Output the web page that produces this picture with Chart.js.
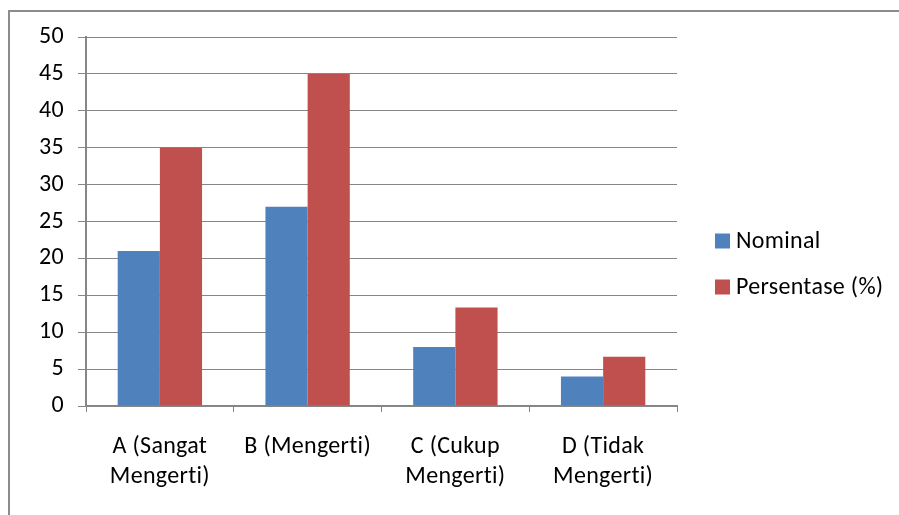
<!DOCTYPE html>
<html>
<head>
<meta charset="utf-8">
<script src="https://cdn.jsdelivr.net/npm/chart.js@4/dist/chart.umd.min.js"></script>
<style>
  html, body { margin: 0; padding: 0; background: #ffffff; }
  #wrap { width: 899px; height: 515px; position: relative; }
</style>
</head>
<body>
<div id="wrap"><canvas id="c" width="899" height="515"></canvas></div>
<script>
// Categories (tick labels, wrapped like the axis shows them)
const categories = [
  ["A (Sangat", "Mengerti)"],
  "B (Mengerti)",
  ["C (Cukup", "Mengerti)"],
  ["D (Tidak", "Mengerti)"]
];
const seriesNames = ["Nominal", "Persentase (%)"];
const nominal = [21, 27, 8, 4];
const persentase = [35, 45, 13.33, 6.67];
const yTicks = [0, 5, 10, 15, 20, 25, 30, 35, 40, 45, 50];

const FONT = "Carlito, Calibri, Lato, sans-serif";
const FSIZE = 24;
const GRID = "#868686";
const BLUE = "#4F81BD";
const RED = "#C0504D";

// Outer frame (top and left edges) drawn behind everything.
// A small letter spacing on the base context keeps "ti" unligated.
const framePlugin = {
  id: 'frame',
  beforeDraw(chart) {
    const ctx = chart.ctx;
    ctx.letterSpacing = '0.3px';
    ctx.save();
    ctx.fillStyle = '#ffffff';
    ctx.fillRect(0, 0, chart.width, chart.height);
    ctx.strokeStyle = '#8c8c8c';
    ctx.lineWidth = 2;
    ctx.beginPath();
    ctx.moveTo(9, chart.height);
    ctx.lineTo(9, 11);
    ctx.lineTo(chart.width, 11);
    ctx.stroke();
    ctx.restore();
  }
};

// Legend at the right, square swatches followed by series names
const sideLegend = {
  id: 'sideLegend',
  afterDraw(chart) {
    const ctx = chart.ctx;
    ctx.save();
    ctx.font = FSIZE + "px " + FONT;
    ctx.textBaseline = 'middle';
    ctx.textAlign = 'left';
    const x = 715, rows = [240.5, 286.5], sz = 14;
    chart.data.datasets.forEach((ds, i) => {
      const cy = rows[i];
      ctx.fillStyle = ds.backgroundColor;
      ctx.fillRect(x, cy - sz / 2, sz + 1, sz + 1);
      ctx.fillStyle = '#000000';
      ctx.fillText(ds.label, x + 21, cy + 1);
    });
    ctx.restore();
  }
};

new Chart(document.getElementById('c'), {
  type: 'bar',
  data: {
    labels: categories,
    datasets: [
      { label: seriesNames[0], data: nominal, backgroundColor: BLUE, borderWidth: 0 },
      { label: seriesNames[1], data: persentase, backgroundColor: RED, borderWidth: 0 }
    ]
  },
  plugins: [framePlugin, sideLegend],
  options: {
    responsive: false,
    animation: false,
    devicePixelRatio: 1,
    layout: { padding: { left: 0, right: 222, top: 37, bottom: 0 } },
    plugins: {
      legend: { display: false },
      tooltip: { enabled: false }
    },
    datasets: {
      bar: { categoryPercentage: 0.571, barPercentage: 1.0 }
    },
    scales: {
      x: {
        offset: true,
        grid: {
          display: true,
          offset: true,
          drawOnChartArea: false,
          drawTicks: true,
          tickLength: 6,
          color: GRID,
          lineWidth: 1
        },
        border: { display: true, color: GRID, width: 2 },
        ticks: {
          color: '#000000',
          font: { family: FONT, size: FSIZE, lineHeight: 30 / FSIZE },
          padding: 20,
          maxRotation: 0,
          autoSkip: false
        },
        afterFit(scale) { scale.height = 109; }
      },
      y: {
        min: 0,
        max: 50,
        afterBuildTicks(scale) { scale.ticks = yTicks.map(v => ({ value: v })); },
        grid: {
          color: GRID,
          lineWidth: 1,
          drawTicks: true,
          tickLength: 8
        },
        border: { display: true, color: GRID, width: 2 },
        ticks: {
          color: '#000000',
          font: { family: FONT, size: FSIZE },
          padding: 14
        },
        afterFit(scale) { scale.width = 86; }
      }
    }
  }
});
</script>
</body>
</html>
